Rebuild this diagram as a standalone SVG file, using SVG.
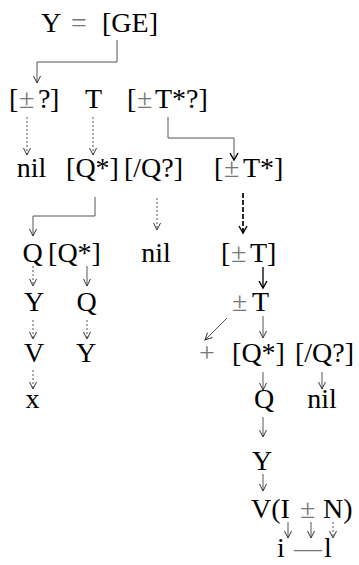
<svg xmlns="http://www.w3.org/2000/svg" width="359" height="565" viewBox="0 0 359 565">
<style>
text{font-family:"Liberation Serif","Times New Roman",serif;font-size:28px;fill:#000}
.g{fill:#777}
.c{fill:none;stroke:#555;stroke-width:1}
.d{stroke-dasharray:2 2}
.k{stroke:#111;stroke-width:1.4}
.kd{stroke:#111;stroke-width:1.8;stroke-dasharray:5 2}
</style>
<defs>
<marker id="ah" markerUnits="userSpaceOnUse" markerWidth="10" markerHeight="10" refX="8" refY="5" orient="auto" viewBox="0 0 10 10">
<path d="M1,1.5 L8,5 L1,8.5" fill="none" stroke="#333" stroke-width="1"/>
</marker>
<marker id="ahk" markerUnits="userSpaceOnUse" markerWidth="10" markerHeight="10" refX="8" refY="5" orient="auto" viewBox="0 0 10 10">
<path d="M1,1 L8,5 L1,9" fill="none" stroke="#000" stroke-width="1.4"/>
</marker>
</defs>
<rect width="359" height="565" fill="#fff"/>
<g id="connectors">
<polyline class="c" points="117,40 117,62 37,62 37,83" marker-end="url(#ah)"/>
<line class="c d" x1="27" y1="117" x2="27" y2="155" marker-end="url(#ah)"/>
<line class="c d" x1="93" y1="117" x2="93" y2="155" marker-end="url(#ah)"/>
<polyline class="c" points="168,117 168,138 234,138 234,160" marker-end="url(#ahk)"/>
<polyline class="c" points="95,197 95,216 33,216 33,236" marker-end="url(#ah)"/>
<line class="c d" x1="157" y1="198" x2="157" y2="230" marker-end="url(#ah)"/>
<line class="c kd" x1="243" y1="193" x2="243" y2="233" marker-end="url(#ahk)"/>
<line class="c k" x1="263" y1="267" x2="263" y2="288" marker-end="url(#ahk)"/>
<line class="c d" x1="33" y1="266" x2="33" y2="286" marker-end="url(#ah)"/>
<line class="c" x1="87" y1="266" x2="87" y2="286" marker-end="url(#ah)"/>
<line class="c d" x1="33" y1="320" x2="33" y2="339" marker-end="url(#ah)"/>
<line class="c d" x1="87" y1="320" x2="87" y2="339" marker-end="url(#ah)"/>
<line class="c" x1="227" y1="318" x2="205" y2="340" marker-end="url(#ah)"/>
<line class="c" x1="263" y1="316" x2="263" y2="338" marker-end="url(#ah)"/>
<line class="c d" x1="33" y1="370" x2="33" y2="389" marker-end="url(#ah)"/>
<line class="c" x1="263" y1="372" x2="263" y2="390" marker-end="url(#ah)"/>
<line class="c" x1="322" y1="372" x2="322" y2="389" marker-end="url(#ah)"/>
<line class="c" x1="263" y1="417" x2="263" y2="437" marker-end="url(#ah)"/>
<line class="c" x1="263" y1="474" x2="263" y2="491" marker-end="url(#ah)"/>
<line class="c" x1="288" y1="522" x2="288" y2="538" marker-end="url(#ah)"/>
<line class="c" x1="311" y1="522" x2="311" y2="538" marker-end="url(#ah)"/>
<line class="c d" x1="333" y1="522" x2="333" y2="538" marker-end="url(#ah)"/>
</g>
<g id="n_root"><text y="32"><tspan x="41">Y</tspan><tspan x="71" class="g">=</tspan><tspan x="102">[GE]</tspan></text></g>
<g id="n_pm_opt"><text y="108"><tspan x="9">[</tspan><tspan x="19" class="g">±</tspan><tspan x="38">?</tspan><tspan x="50">]</tspan></text></g>
<g id="n_T"><text x="93.5" y="108" text-anchor="middle">T</text></g>
<g id="n_pmTstar_opt"><text y="108"><tspan x="127">[</tspan><tspan x="137" class="g">±</tspan><tspan x="155">T*?]</tspan></text></g>
<g id="n_nil1"><text x="31.5" y="177" text-anchor="middle">nil</text></g>
<g id="n_Qstar1"><text x="92.5" y="177" text-anchor="middle">[Q*]</text></g>
<g id="n_slashQ1"><text x="153.5" y="177" text-anchor="middle">[/Q?]</text></g>
<g id="n_pmTstar"><text y="177"><tspan x="214">[</tspan><tspan x="224" class="g">±</tspan><tspan x="243">T*]</tspan></text></g>
<g id="n_Q1"><text x="32.5" y="262" text-anchor="middle">Q</text></g>
<g id="n_Qstar2"><text x="74.5" y="262" text-anchor="middle">[Q*]</text></g>
<g id="n_nil2"><text x="156" y="262" text-anchor="middle">nil</text></g>
<g id="n_pmT"><text y="262"><tspan x="221">[</tspan><tspan x="231" class="g">±</tspan><tspan x="250">T]</tspan></text></g>
<g id="n_Y1"><text x="34" y="311" text-anchor="middle">Y</text></g>
<g id="n_Q2"><text x="86.5" y="311" text-anchor="middle">Q</text></g>
<g id="n_pmT2"><text y="311"><tspan x="232" class="g">±</tspan><tspan x="252">T</tspan></text></g>
<g id="n_V1"><text x="34" y="362" text-anchor="middle">V</text></g>
<g id="n_Y2"><text x="86" y="362" text-anchor="middle">Y</text></g>
<g id="n_plus"><text x="207" y="362" text-anchor="middle" class="g">+</text></g>
<g id="n_Qstar3"><text x="258.5" y="362" text-anchor="middle">[Q*]</text></g>
<g id="n_slashQ2"><text x="324.5" y="362" text-anchor="middle">[/Q?]</text></g>
<g id="n_x"><text x="32.5" y="408" text-anchor="middle">x</text></g>
<g id="n_Q3"><text x="264" y="408" text-anchor="middle">Q</text></g>
<g id="n_nil3"><text x="322" y="408" text-anchor="middle">nil</text></g>
<g id="n_Y3"><text x="262" y="470" text-anchor="middle">Y</text></g>
<g id="n_VIN"><text y="518"><tspan x="251">V(I</tspan><tspan x="300" class="g">±</tspan><tspan x="323">N)</tspan></text></g>
<g id="n_il"><text y="557"><tspan x="281" text-anchor="middle">i</tspan><tspan x="294" class="g">—</tspan><tspan x="328" text-anchor="middle">l</tspan></text></g>
</svg>
